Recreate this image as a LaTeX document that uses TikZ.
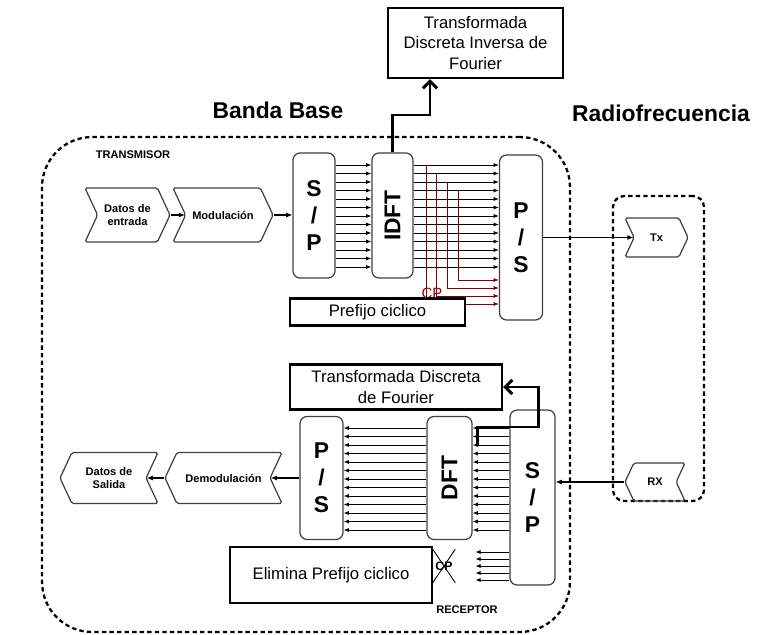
\documentclass[tikz,border=0pt]{standalone}
\usepackage{fontspec}
\setmainfont{Liberation Sans}
\usetikzlibrary{shapes.symbols, arrows.meta}

\begin{document}
\begin{tikzpicture}[
        x=0.02cm, y=-0.02cm,
        font=\fontsize{9.5}{11.5}\selectfont,
        % Define styles for the nodes
        block/.style={rectangle, draw=black!75, line width=0.7pt, rounded corners=4pt, align=center, inner sep=0pt, font=\fontsize{13}{15.5}\selectfont\bfseries},
        textbox/.style={rectangle, draw=black, line width=1.4pt, fill=white, align=center, inner sep=2pt},
        flag/.style={signal, draw=black!75, line width=0.7pt, signal pointer angle=130, rounded corners=1pt, align=center, inner sep=1pt, font=\fontsize{6.3}{7.5}\selectfont\bfseries},
        flagright/.style={flag, signal from=west, signal to=east},
        flagleft/.style={flag, signal from=east, signal to=west},
        zone/.style={rectangle, draw=black, line width=1.3pt, dash pattern=on 2.5pt off 1.8pt},
        title/.style={font=\fontsize{13}{15}\selectfont\bfseries},
        tag/.style={font=\fontsize{6.3}{7}\selectfont\bfseries},
        row/.style={line width=0.55pt, -{Latex[length=3pt,width=2.4pt]}},
        cprow/.style={row, draw=red!50!black},
        link/.style={line width=0.6pt, -{Latex[length=3.5pt,width=2.8pt]}},
        bigarrow/.style={line width=1.7pt, -{Straight Barb[length=4pt,width=8pt]}}
    ]
        \useasboundingbox (0,0) rectangle (757,635);

        % --- Zones ---
        \node[zone, rounded corners=1cm, minimum width=10.56cm, minimum height=9.9cm] (bb) at (306,384.5) {};
        \node[zone, rounded corners=0.22cm, minimum width=1.82cm, minimum height=6.1cm] (rf) at (658.5,348.5) {};
        \node[title] (tbb) at (278,110) {Banda Base};
        \node[title] (trf) at (661,113) {Radiofrecuencia};
        \node[tag] (ttx) at (133,155) {TRANSMISOR};
        \node[tag] (trx) at (467,610) {RECEPTOR};

        % --- Transmitter ---
        \node[textbox, minimum width=3.5cm, minimum height=1.4cm] (idftname) at (475.5,43) {Transformada\\Discreta Inversa de\\Fourier};
        \node[flagright, minimum width=1.7cm, minimum height=1.08cm] (datin) at (127.5,215) {Datos de\\entrada};
        \node[flagright, minimum width=2cm, minimum height=1.08cm] (modul) at (223,215) {Modulación};
        \node[block, minimum width=0.84cm, minimum height=2.5cm] (sptx) at (314,215.5) {S\\/\\P};
        \node[block, minimum width=0.82cm, minimum height=2.5cm] (idft) at (392.5,215.5) {\rotatebox{90}{IDFT}};
        \node[block, minimum width=0.86cm, minimum height=3.3cm] (pstx) at (521,237.5) {P\\/\\S};
        \node[flagright, minimum width=1.26cm, minimum height=0.78cm] (tx) at (656.5,237.5) {Tx};

        % --- Receiver ---
        \node[textbox, minimum width=4.24cm, minimum height=0.9cm] (dftname) at (396,387) {Transformada Discreta\\de Fourier};
        \node[block, minimum width=0.86cm, minimum height=2.46cm] (psrx) at (321.5,478) {P\\/\\S};
        \node[block, minimum width=0.9cm, minimum height=2.46cm] (dft) at (449.5,478) {\rotatebox{90}{DFT}};
        \node[block, minimum width=0.9cm, minimum height=3.5cm] (sprx) at (532.5,497.5) {S\\/\\P};
        \node[flagleft, minimum width=1.2cm, minimum height=0.76cm] (rx) at (655,482) {RX};
        \node[flagleft, minimum width=2.34cm, minimum height=1.02cm] (demod) at (223.5,478) {Demodulación};
        \node[flagleft, minimum width=1.96cm, minimum height=1.02cm] (datout) at (109,478) {Datos de\\Salida};

        % --- Edges ---
        \draw[link] (datin.east) -- (modul.west);
        \draw[link] (modul.east) -- (sptx.west |- modul.east);
        \draw[link] (pstx.east) -- (tx.west);
        \draw[link] (rx.west) -- (rx.west -| sprx.east);
        \draw[link] (psrx.west) -- (demod.east);
        \draw[link] (demod.west) -- (datout.east);

        % parallel samples
        \foreach \i in {0,...,12} {
            \pgfmathsetmacro\yt{165+8.5*\i}
            \pgfmathsetmacro\yr{428+8.5*\i}
            \draw[row] (sptx.east |- 0,\yt) -- (idft.west |- 0,\yt);
            \draw[row] (idft.east |- 0,\yt) -- (pstx.west |- 0,\yt);
            \draw[row] (dft.west |- 0,\yr) -- (psrx.east |- 0,\yr);
            \draw[row] (sprx.west |- 0,\yr) -- (dft.east |- 0,\yr);
        }

        % cyclic prefix copies
        \foreach \x/\ya/\yb in {426/165/304, 436/173.5/296, 447/182/288, 458/190.5/280}
            \draw[cprow] (\x,\ya) -- (\x,\yb) -- (pstx.west |- 0,\yb);
        \node[font=\fontsize{8.5}{10}\selectfont, text=red!60!black] (cptx) at (432,293) {CP};
        \node[textbox, minimum width=3.5cm, minimum height=0.54cm] (cpre) at (377.5,312) {Prefijo ciclico};

        \foreach \y in {552,559,566,573,580}
            \draw[row] (sprx.west |- 0,\y) -- ++(-34,0);
        \node[font=\fontsize{7}{8}\selectfont\bfseries, minimum width=0.44cm, minimum height=0.66cm, inner sep=0pt] (cprx) at (444,566) {CP};
        \draw[line width=0.5pt] (cprx.north west) -- (cprx.south east) (cprx.north east) -- (cprx.south west);
        \node[textbox, minimum width=4.04cm, minimum height=1.12cm] (elim) at (331,575) {Elimina Prefijo ciclico};

        % --- Fourier blocks ---
        \coordinate (ibend) at (430,115);
        \draw[bigarrow] (idft.north) |- (ibend) -- (ibend |- idftname.south);
        \coordinate (fstart) at (477,445);
        \coordinate (fbend) at (538,427);
        \draw[bigarrow] (fstart) |- (fbend) |- (dftname.east);

    \end{tikzpicture}
\end{document}
